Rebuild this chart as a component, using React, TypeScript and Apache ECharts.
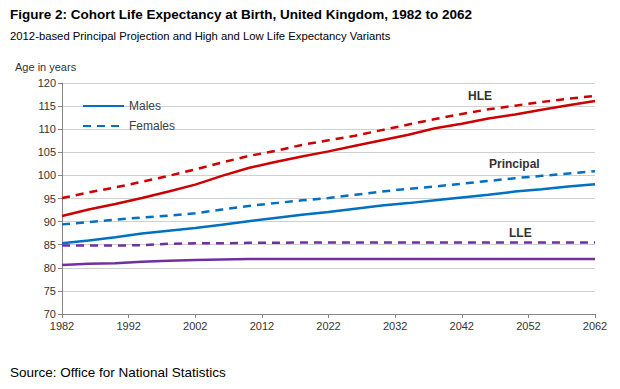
import React, { useEffect, useRef } from "react";
import * as echarts from "echarts";

const years = [1982, 1986, 1990, 1994, 1998, 2002, 2006, 2010, 2014, 2018, 2022, 2026, 2030, 2034, 2038, 2042, 2046, 2050, 2054, 2058, 2062];

const hleMales = [91.2, 92.6, 93.8, 95.1, 96.5, 98.0, 99.9, 101.6, 102.9, 104.1, 105.2, 106.4, 107.6, 108.8, 110.2, 111.2, 112.3, 113.2, 114.2, 115.2, 116.1];
const hleFemales = [95.1, 96.3, 97.4, 98.6, 99.9, 101.3, 102.8, 104.2, 105.3, 106.6, 107.6, 108.6, 109.8, 111.0, 112.2, 113.3, 114.3, 115.1, 115.9, 116.6, 117.2];
const principalMales = [85.3, 85.9, 86.6, 87.4, 88.0, 88.6, 89.3, 90.1, 90.8, 91.5, 92.1, 92.8, 93.5, 94.0, 94.6, 95.2, 95.8, 96.5, 97.0, 97.6, 98.1];
const principalFemales = [89.4, 89.9, 90.4, 90.9, 91.3, 91.8, 92.6, 93.4, 94.0, 94.6, 95.1, 95.8, 96.5, 97.1, 97.6, 98.2, 98.8, 99.4, 99.9, 100.4, 100.9];
const lleMales = [80.6, 80.9, 81.0, 81.3, 81.5, 81.7, 81.8, 81.9, 81.9, 81.9, 81.9, 81.9, 81.9, 81.9, 81.9, 81.9, 81.9, 81.9, 81.9, 81.9, 81.9];
const lleFemales = [84.8, 84.8, 84.8, 84.9, 85.2, 85.3, 85.3, 85.4, 85.4, 85.5, 85.5, 85.5, 85.5, 85.5, 85.5, 85.5, 85.5, 85.5, 85.5, 85.5, 85.5];

const FONT = "Liberation Sans, Arial, sans-serif";
const RED = "#cc0000";
const BLUE = "#0070c0";
const PURPLE = "#7030a0";

function pairs(vals: number[]) {
  return years.map((y, i) => [y, vals[i]]);
}

export default function App() {
  const ref = useRef<HTMLDivElement>(null);
  useEffect(() => {
    const chart = echarts.init(ref.current!, null, { renderer: "svg" });
    const line = (name: string, vals: number[], color: string, dashed: boolean) => ({
      type: "line",
      name,
      data: pairs(vals),
      showSymbol: false,
      symbol: "none",
      lineStyle: { color, width: 2.5, type: dashed ? [8, 6] : "solid" },
      itemStyle: { color },
      z: 3,
    });
    chart.setOption({
      animation: false,
      backgroundColor: "#ffffff",
      title: [
        {
          text: "Figure 2: Cohort Life Expectancy at Birth, United Kingdom, 1982 to 2062",
          left: 5,
          top: 2,
          textStyle: { fontFamily: FONT, fontSize: 13.5, fontWeight: "bold", color: "#000" },
        },
        {
          text: "2012-based Principal Projection and High and Low Life Expectancy Variants",
          left: 5,
          top: 25,
          textStyle: { fontFamily: FONT, fontSize: 11.3, fontWeight: "normal", color: "#000" },
        },
        {
          text: "Age in years",
          left: 10,
          top: 56,
          textStyle: { fontFamily: FONT, fontSize: 11, fontWeight: "normal", color: "#333" },
        },
        {
          text: "Source: Office for National Statistics",
          left: 5,
          top: 360,
          textStyle: { fontFamily: FONT, fontSize: 13.5, fontWeight: "normal", color: "#000" },
        },
      ],
      legend: {
        data: ["Males", "Females"],
        orient: "vertical",
        left: 77,
        top: 95,
        itemWidth: 41,
        itemHeight: 10,
        itemGap: 8,
        itemStyle: { opacity: 0 },
        textStyle: { fontFamily: FONT, fontSize: 12, color: "#404040" },
      },
      grid: { left: 62, right: 25, top: 83, bottom: 75 },
      xAxis: {
        type: "value",
        min: 1982,
        max: 2062,
        interval: 10,
        splitLine: { show: false },
        axisLine: { lineStyle: { color: "#868686" } },
        axisTick: { show: true, length: 4, lineStyle: { color: "#868686" } },
        axisLabel: { fontFamily: FONT, fontSize: 11, color: "#333", margin: 6, formatter: (v: number) => String(v) },
      },
      yAxis: {
        type: "value",
        min: 70,
        max: 120,
        interval: 5,
        splitLine: { show: true, lineStyle: { color: "#d0d0d0", width: 1 } },
        axisLine: { show: true, lineStyle: { color: "#868686" } },
        axisTick: { show: true, length: 4, lineStyle: { color: "#868686" } },
        axisLabel: { fontFamily: FONT, fontSize: 11, color: "#333", margin: 6 },
      },
      graphic: [
        { type: "text", left: 468, top: 90, style: { text: "HLE", font: `bold 12px ${FONT}`, fill: "#333" } },
        { type: "text", left: 489, top: 158, style: { text: "Principal", font: `bold 12px ${FONT}`, fill: "#333" } },
        { type: "text", left: 509, top: 227, style: { text: "LLE", font: `bold 12px ${FONT}`, fill: "#333" } },
      ],
      series: [
        line("LLE Males", lleMales, PURPLE, false),
        line("LLE Females", lleFemales, PURPLE, true),
        line("Males", principalMales, BLUE, false),
        line("Females", principalFemales, BLUE, true),
        line("HLE Males", hleMales, RED, false),
        line("HLE Females", hleFemales, RED, true),
      ],
    });
    return () => chart.dispose();
  }, []);
  return <div ref={ref} style={{ position: "fixed", left: 0, top: 0, width: 620, height: 389 }} />;
}
